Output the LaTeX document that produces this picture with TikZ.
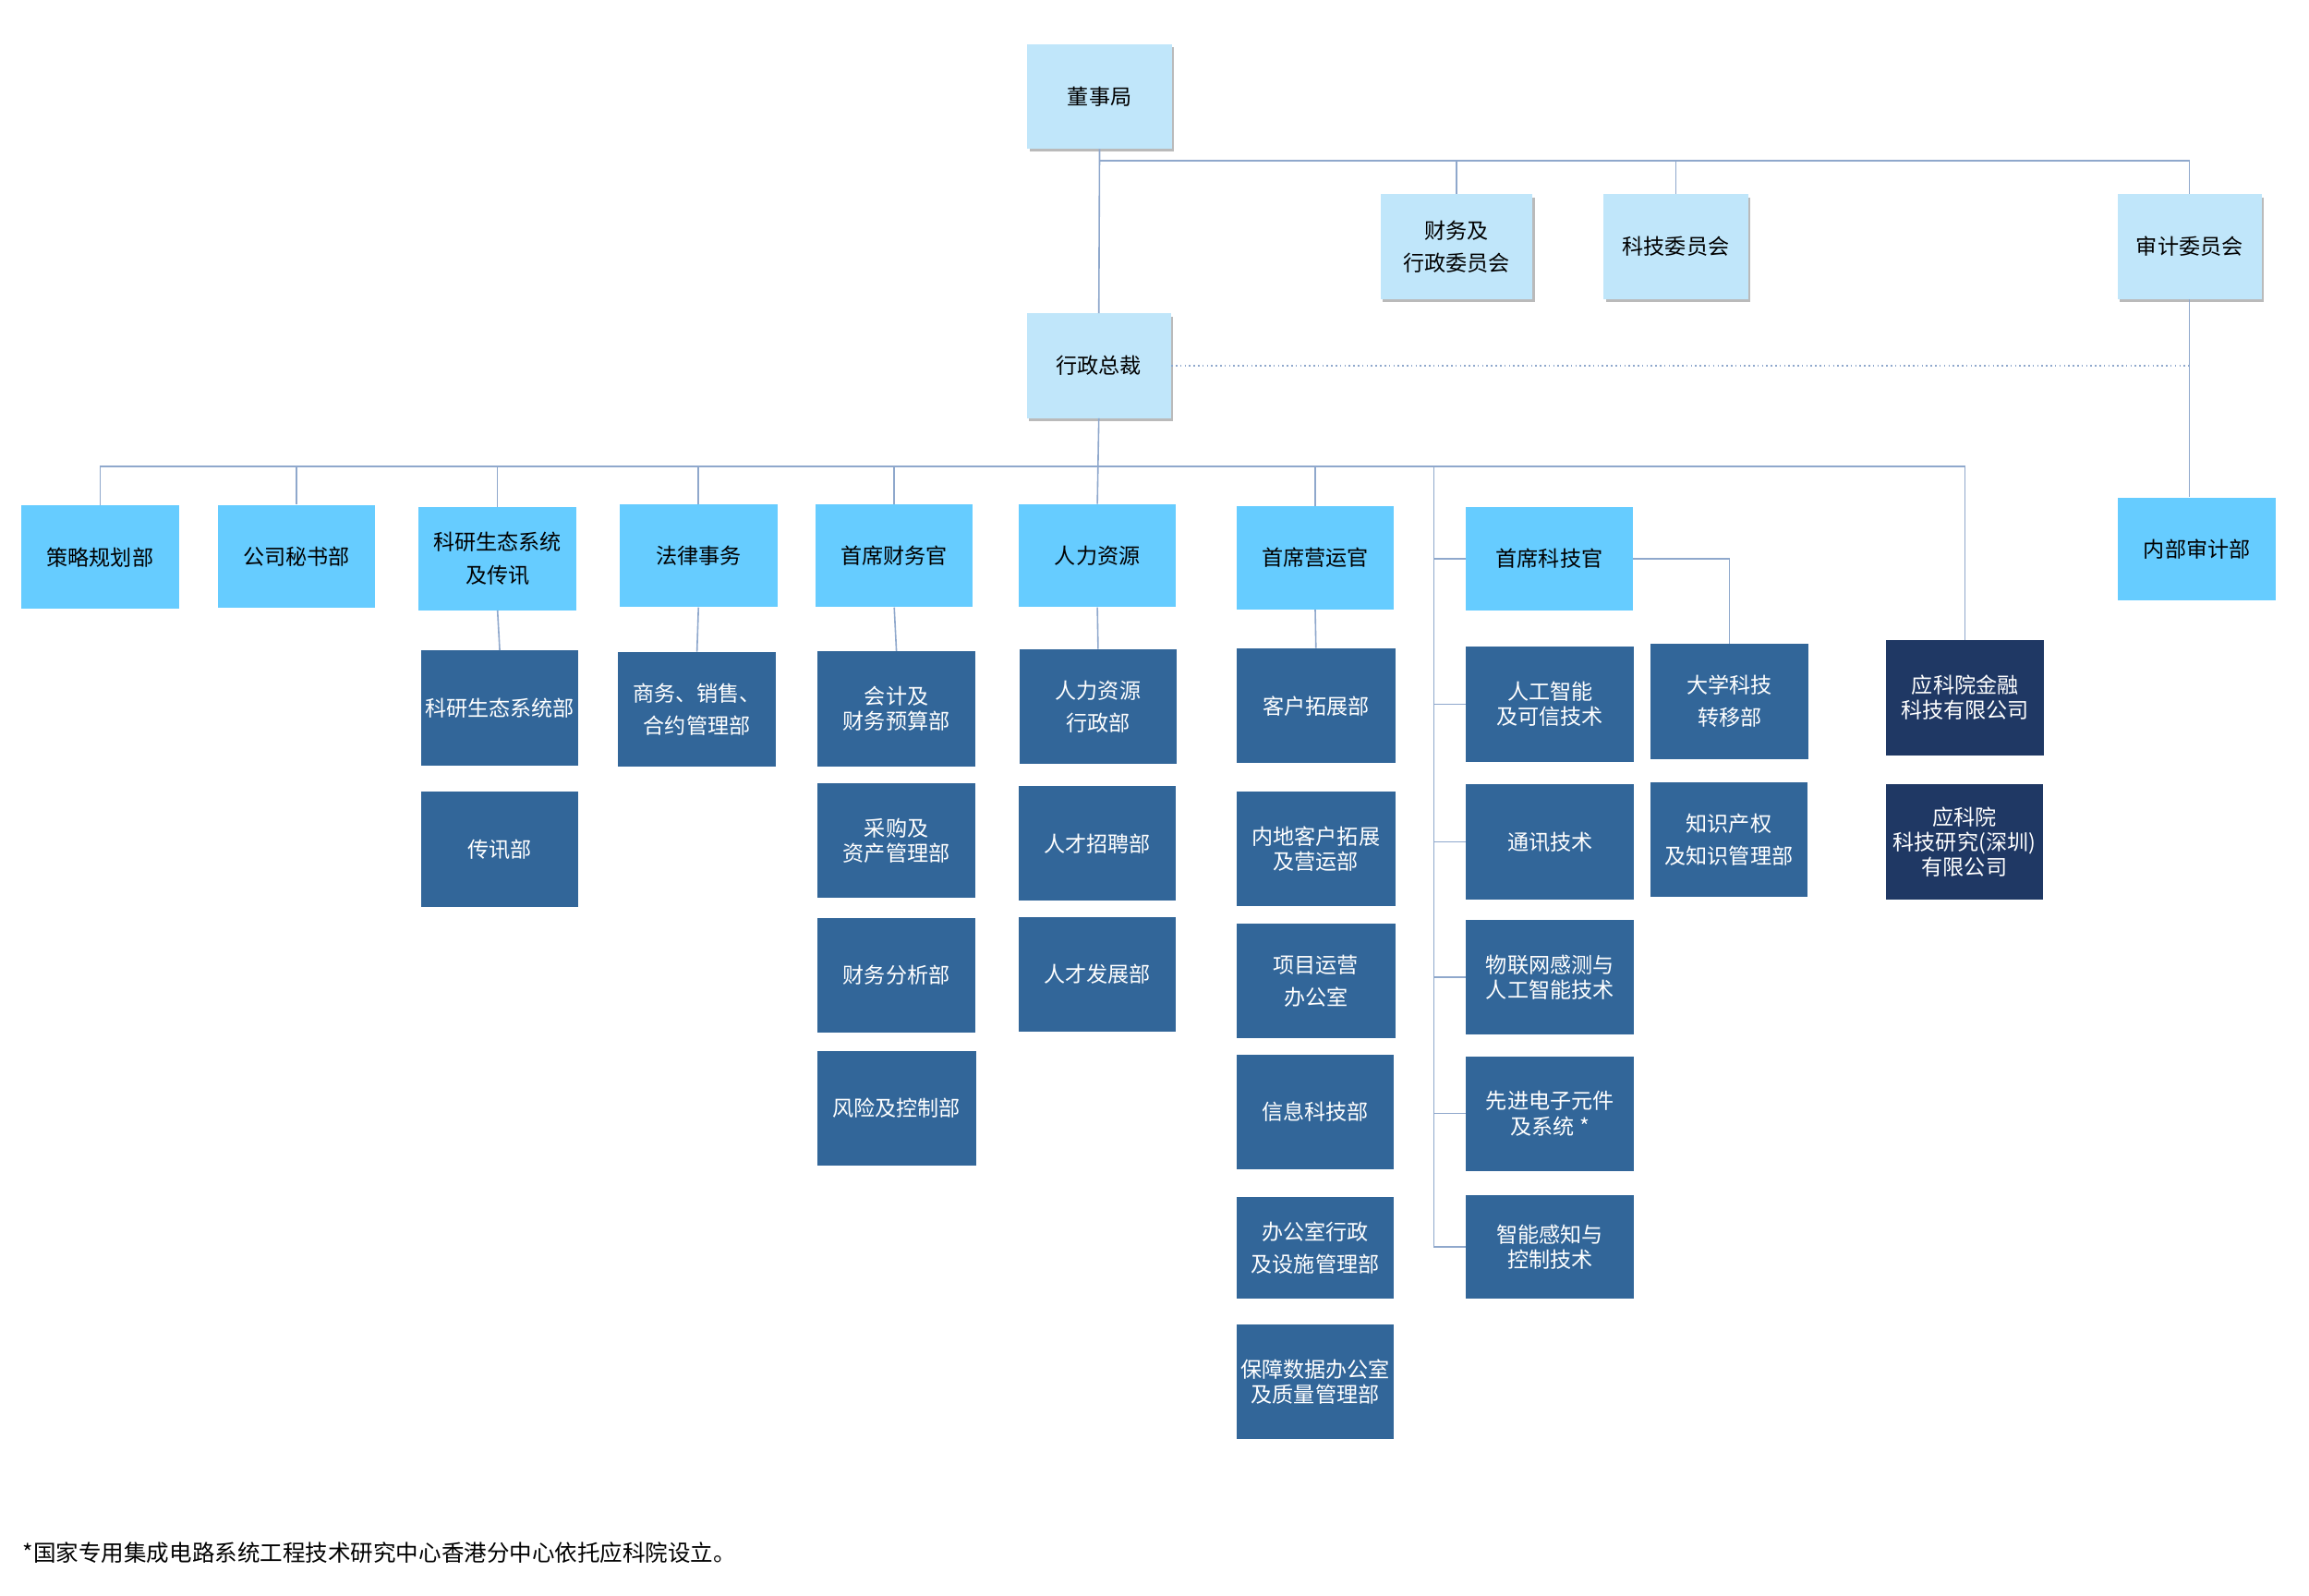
\documentclass[tikz,border=0pt]{standalone}
\usepackage{fontspec}
\setmainfont{Noto Sans CJK SC}
\usepackage{xcolor}
\usepackage{tikz}
\usetikzlibrary{positioning, shadows}
\definecolor{boardcolor}{RGB}{192,230,250}
\definecolor{headcolor}{RGB}{102,204,255}
\definecolor{deptcolor}{RGB}{50,102,153}
\definecolor{firmcolor}{RGB}{31,56,100}
\definecolor{linkcolor}{RGB}{143,168,204}

\begin{document}
\begin{tikzpicture}[
    x=1pt, y=-1pt,
    scale=0.9945,
    transform shape,
    orgbox/.style={fill=#1, inner sep=0pt, align=center, font=\fontsize{14.5}{22}\selectfont},
    boardbox/.style={orgbox=boardcolor, minimum width=98pt, minimum height=71pt, drop shadow={shadow xshift=1.5pt, shadow yshift=-2pt, fill=black!45, opacity=0.6}},
    headbox/.style={orgbox=headcolor, minimum width=107pt, minimum height=70pt},
    deptbox/.style={orgbox=deptcolor, text=white, minimum width=107pt, minimum height=78pt},
    firmbox/.style={deptbox, fill=firmcolor},
    tightbox/.style={font=\fontsize{14.5}{17}\selectfont},
    link/.style={draw=linkcolor, line width=1pt},
    dotline/.style={link, dotted}
]
    \useasboundingbox (0,0) rectangle (1568.6,1083.6);

    % Board and committees
    \node[boardbox] (board) at (747,65.5) {董事局};
    \node[boardbox, minimum width=103pt] (fincom) at (989.5,167.5) {财务及\\行政委员会};
    \node[boardbox] (techcom) at (1138.5,167.5) {科技委员会};
    \node[boardbox] (auditcom) at (1487.5,167.5) {审计委员会};
    \node[boardbox] (ceo) at (746.5,248.5) {行政总裁};

    % Heads under the CEO
    \node[headbox] (strat) at (68,378.5) {策略规划部};
    \node[headbox] (cosec) at (201.5,378) {公司秘书部};
    \node[headbox] (ecocomm) at (338,379.5) {科研生态系统\\及传讯};
    \node[headbox] (legal) at (474.5,377.5) {法律事务};
    \node[headbox] (cfo) at (607.5,377.5) {首席财务官};
    \node[headbox] (hr) at (745.5,377.5) {人力资源};
    \node[headbox] (coo) at (893.5,379) {首席营运官};
    \node[headbox, minimum width=113pt] (cto) at (1052.5,379.5) {首席科技官};
    \node[headbox] (intaudit) at (1492.5,373) {内部审计部};

    % Departments
    \node[deptbox] (ecosys) at (339.5,481) {科研生态系统部};
    \node[deptbox] (comm) at (339.5,577) {传讯部};
    \node[deptbox] (contract) at (473.5,482) {商务、销售、\\合约管理部};
    \node[deptbox, tightbox] (acct) at (609,481.5) {会计及\\财务预算部};
    \node[deptbox, tightbox] (procure) at (609,571) {采购及\\资产管理部};
    \node[deptbox] (finana) at (609,662.5) {财务分析部};
    \node[deptbox, minimum width=108pt] (risk) at (609,753) {风险及控制部};
    \node[deptbox] (hradmin) at (746,480) {人力资源\\行政部};
    \node[deptbox] (recruit) at (745.5,573) {人才招聘部};
    \node[deptbox] (talent) at (745.5,662) {人才发展部};
    \node[deptbox, minimum width=108pt] (custdev) at (894,479.5) {客户拓展部};
    \node[deptbox, tightbox, minimum width=108pt] (mainland) at (894,576.5) {内地客户拓展\\及营运部};
    \node[deptbox, minimum width=108pt] (pmo) at (894,666.5) {项目运营\\办公室};
    \node[deptbox] (infotech) at (893.5,755.5) {信息科技部};
    \node[deptbox, minimum height=69pt] (officeadm) at (893.5,847.5) {办公室行政\\及设施管理部};
    \node[deptbox, tightbox] (dataoffice) at (893.5,938.5) {保障数据办公室\\及质量管理部};
    \node[deptbox, tightbox, minimum width=114pt] (ai) at (1053,478.5) {人工智能\\及可信技术};
    \node[deptbox, minimum width=114pt] (telecom) at (1053,572) {通讯技术};
    \node[deptbox, tightbox, minimum width=114pt] (iot) at (1053,664) {物联网感测与\\人工智能技术};
    \node[deptbox, tightbox, minimum width=114pt] (aecs) at (1053,756.5) {先进电子元件\\及系统 *};
    \node[deptbox, tightbox, minimum width=114pt, minimum height=70pt] (sense) at (1053,847) {智能感知与\\控制技术};
    \node[deptbox] (unitech) at (1175,476.5) {大学科技\\转移部};
    \node[deptbox] (ipm) at (1174.5,570.5) {知识产权\\及知识管理部};
    \node[firmbox, tightbox] (fintech) at (1335,474) {应科院金融\\科技有限公司};
    \node[firmbox, tightbox] (szres) at (1334.5,572) {应科院\\科技研究(深圳)\\有限公司};

    % Footnote
    \node[anchor=west, font=\fontsize{15.4}{18}\selectfont] (note) at (12,1055) {*国家专用集成电路系统工程技术研究中心香港分中心依托应科院设立。};

    % Connections
    \coordinate (topbus) at (747,109);
    \coordinate (midbus) at (746,317);
    \coordinate (ctobus) at (974,317);
    \draw[link] (board.south) -- (ceo.north);
    \foreach \n in {fincom, techcom, auditcom}
        \draw[link] (topbus) -| (\n.north);
    \draw[link] (ceo.south) -- (hr.north);
    \foreach \n in {strat, cosec, ecocomm, legal, cfo, coo, fintech}
        \draw[link] (midbus) -| (\n.north);
    \foreach \n in {cto, ai, telecom, iot, aecs, sense}
        \draw[link] (ctobus) |- (\n.west);
    \draw[link] (cto.east) -| (unitech.north);
    \draw[link] (ecocomm.south) -- (ecosys.north);
    \draw[link] (legal.south) -- (contract.north);
    \draw[link] (cfo.south) -- (acct.north);
    \draw[link] (hr.south) -- (hradmin.north);
    \draw[link] (coo.south) -- (custdev.north);
    \draw[link] (auditcom.south) -- (auditcom.south |- intaudit.north);
    \draw[dotline] (ceo.east) -- (ceo.east -| auditcom.south);
\end{tikzpicture}
\end{document}
